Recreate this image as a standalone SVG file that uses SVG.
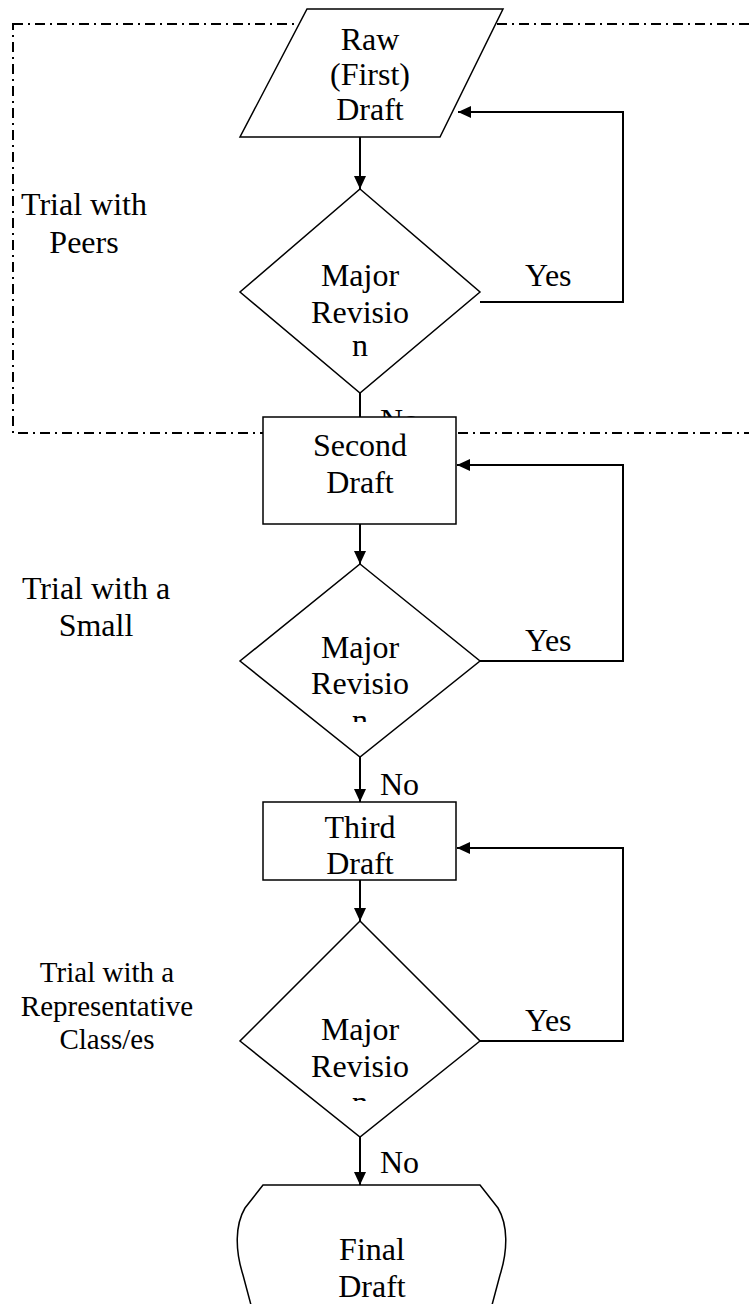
<svg xmlns="http://www.w3.org/2000/svg" width="749" height="1304" viewBox="0 0 749 1304">
<style>
text{font-family:"Liberation Serif","Times New Roman",serif;font-size:32px;fill:#000}
.node{fill:#fff;stroke:#000;stroke-width:1.5}
.conn{fill:none;stroke:#000;stroke-width:2}
.mid{text-anchor:middle}
.small{font-size:29px}
</style>
<defs>
<marker id="ah" viewBox="0 0 13 12" refX="13" refY="6" markerWidth="13" markerHeight="12" markerUnits="userSpaceOnUse" orient="auto">
<path d="M0,0 L13,6 L0,12 z" fill="#000"/>
</marker>
<clipPath id="c1"><rect x="240" y="189" width="240" height="171"/></clipPath>
<clipPath id="c2"><rect x="240" y="564" width="240" height="158"/></clipPath>
<clipPath id="c3"><rect x="240" y="921" width="240" height="180"/></clipPath>
</defs>
<g id="group-peers">
<rect x="13" y="24" width="760" height="409" fill="none" stroke="#000" stroke-width="2" stroke-dasharray="10 5 2 5"/>
</g>
<g id="side-labels">
<text class="mid" x="84" y="215">Trial with</text>
<text class="mid" x="84" y="253">Peers</text>
<text class="mid" x="96" y="599">Trial with a</text>
<text class="mid" x="96" y="636">Small</text>
<text class="mid small" x="107" y="982">Trial with a</text>
<text class="mid small" x="107" y="1016">Representative</text>
<text class="mid small" x="107" y="1049">Class/es</text>
</g>
<g id="connectors">
<line class="conn" x1="360" y1="137" x2="360" y2="189" marker-end="url(#ah)"/>
<polyline class="conn" points="480,302 623,302 623,112 458,112" marker-end="url(#ah)"/>
<line class="conn" x1="360" y1="393" x2="360" y2="417"/>
<line class="conn" x1="360" y1="524" x2="360" y2="564" marker-end="url(#ah)"/>
<polyline class="conn" points="480,661 623,661 623,465 457,465" marker-end="url(#ah)"/>
<line class="conn" x1="360" y1="757" x2="360" y2="802" marker-end="url(#ah)"/>
<line class="conn" x1="360" y1="880" x2="360" y2="921" marker-end="url(#ah)"/>
<polyline class="conn" points="480,1041 623,1041 623,848 457,848" marker-end="url(#ah)"/>
<line class="conn" x1="360" y1="1137" x2="360" y2="1185" marker-end="url(#ah)"/>
<text x="525" y="286">Yes</text>
<text x="525" y="651">Yes</text>
<text x="525" y="1031">Yes</text>
<text x="380" y="431">No</text>
<text x="380" y="795">No</text>
<text x="380" y="1173">No</text>
</g>
<g id="raw-draft">
<polygon class="node" points="307,9 503,9 440,137 240,137"/>
<text class="mid" x="370" y="50">Raw</text>
<text class="mid" x="370" y="85">(First)</text>
<text class="mid" x="370" y="120">Draft</text>
</g>
<g id="decision-1">
<polygon class="node" points="360,189 480,292 360,393 240,292"/>
<g clip-path="url(#c1)">
<text class="mid" x="360" y="286">Major</text>
<text class="mid" x="360" y="323">Revisio</text>
<text class="mid" x="360" y="356">n</text>
</g>
</g>
<g id="second-draft">
<rect class="node" x="263" y="417" width="193" height="107"/>
<text class="mid" x="360" y="456">Second</text>
<text class="mid" x="360" y="493">Draft</text>
</g>
<g id="decision-2">
<polygon class="node" points="360,564 480,661 360,757 240,661"/>
<g clip-path="url(#c2)">
<text class="mid" x="360" y="658">Major</text>
<text class="mid" x="360" y="694">Revisio</text>
<text class="mid" x="360" y="731">n</text>
</g>
</g>
<g id="third-draft">
<rect class="node" x="263" y="802" width="193" height="78"/>
<text class="mid" x="360" y="838">Third</text>
<text class="mid" x="360" y="874">Draft</text>
</g>
<g id="decision-3">
<polygon class="node" points="360,921 480,1041 360,1137 240,1041"/>
<g clip-path="url(#c3)">
<text class="mid" x="360" y="1040">Major</text>
<text class="mid" x="360" y="1077">Revisio</text>
<text class="mid" x="360" y="1113">n</text>
</g>
</g>
<g id="final-draft">
<path class="node" d="M263,1185 H480 L498,1208 C508,1225 508,1250 500,1275 L488,1320 H255 L243,1275 C235,1250 235,1225 245,1208 Z"/>
<text class="mid" x="372" y="1260">Final</text>
<text class="mid" x="372" y="1297">Draft</text>
</g>
</svg>
